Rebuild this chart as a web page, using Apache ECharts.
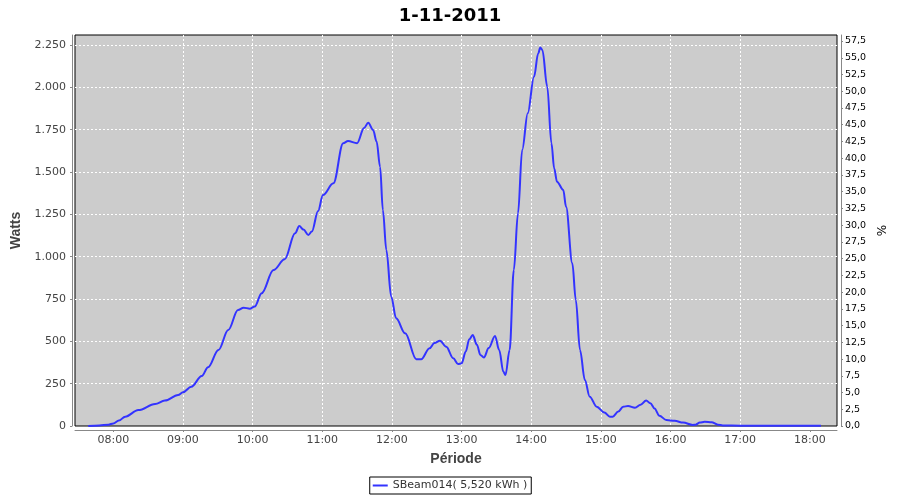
<!DOCTYPE html>
<html>
<head>
<meta charset="utf-8">
<script src="https://cdn.jsdelivr.net/npm/echarts@6/dist/echarts.min.js"></script>
<style>html,body{margin:0;padding:0;background:#fff}#c{width:900px;height:500px}</style>
</head>
<body>
<div id="c"></div>
<script>
var titleText = '1-11-2011';
var seriesName = 'SBeam014( 5,520 kWh )';
var hourTicks = [8, 9, 10, 11, 12, 13, 14, 15, 16, 17, 18];
var hours = [7.64,7.80,7.93,8.00,8.08,8.17,8.36,8.60,8.74,8.93,9.00,9.12,9.27,9.36,9.51,9.65,9.79,9.87,9.96,10.03,10.13,10.30,10.46,10.61,10.67,10.73,10.80,10.85,10.94,11.01,11.16,11.30,11.37,11.50,11.60,11.66,11.73,11.78,11.83,11.87,11.92,11.99,12.06,12.19,12.35,12.42,12.54,12.61,12.69,12.78,12.88,12.95,13.00,13.06,13.11,13.16,13.22,13.27,13.32,13.39,13.48,13.54,13.60,13.63,13.69,13.75,13.81,13.87,13.95,14.04,14.10,14.13,14.16,14.23,14.29,14.33,14.37,14.46,14.50,14.59,14.64,14.70,14.77,14.84,14.94,15.05,15.13,15.17,15.25,15.32,15.39,15.49,15.57,15.65,15.71,15.77,15.84,15.94,16.06,16.18,16.32,16.36,16.42,16.49,16.59,16.68,16.75,17.00,18.16];
var watts = [0,3,8,15,32,55,94,130,150,183,199,232,295,347,449,567,685,699,693,705,784,921,984,1138,1181,1160,1128,1148,1270,1364,1433,1670,1683,1670,1760,1791,1748,1680,1531,1276,1039,764,636,547,394,394,459,490,504,468,400,366,370,440,512,537,480,420,404,460,532,449,320,301,449,921,1256,1630,1847,2063,2200,2235,2220,2004,1670,1520,1443,1394,1295,961,744,449,272,173,114,80,55,55,85,114,118,108,125,150,135,104,61,35,31,20,6,8,20,25,22,8,3,2,2];

var data = hours.map(function (h, i) { return [h, watts[i]]; });

var chart = echarts.init(document.getElementById('c'), null, {renderer: 'canvas'});
var axisGray = '#888888';
var gridLine = {show: true, showMinLine: false, showMaxLine: false, lineStyle: {color: '#ffffff', type: [2, 2], width: 1}};
chart.setOption({
  animation: false,
  backgroundColor: '#ffffff',
  title: {
    text: titleText, left: 'center', top: 2,
    textStyle: {fontFamily: 'DejaVu Sans', fontWeight: 'bold', fontSize: 18, color: '#000'}
  },
  legend: {
    data: [seriesName], left: 'center', top: 477,
    borderColor: '#000', borderWidth: 1, padding: [3, 4, 3, 3],
    icon: 'rect', itemWidth: 15, itemHeight: 2, itemGap: 5,
    textStyle: {fontFamily: 'DejaVu Sans', fontSize: 11, color: '#333'}
  },
  grid: {
    left: 75, right: 63, top: 35, bottom: 74,
    show: true, backgroundColor: '#cccccc', borderColor: '#000', borderWidth: 1,
    containLabel: false
  },
  xAxis: {
    type: 'value', min: 7.45, max: 18.39, offset: 4,
    name: 'Période', nameLocation: 'middle', nameGap: 22,
    nameTextStyle: {fontFamily: 'Liberation Sans', fontWeight: 'bold', fontSize: 14, color: '#444'},
    axisLine: {show: true, onZero: false, lineStyle: {color: axisGray}},
    axisTick: {show: true, length: 2, customValues: hourTicks, lineStyle: {color: axisGray}},
    axisLabel: {
      customValues: hourTicks, margin: 5,
      fontFamily: 'DejaVu Sans', fontSize: 11, color: '#444',
      formatter: function (v) { var h = Math.round(v); return (h < 10 ? '0' : '') + h + ':00'; }
    },
    splitLine: gridLine
  },
  yAxis: [{
    type: 'value', min: 0, max: 2309, interval: 250, offset: 3, position: 'left',
    name: 'Watts', nameLocation: 'middle', nameGap: 46,
    nameTextStyle: {fontFamily: 'Liberation Sans', fontWeight: 'bold', fontSize: 14, color: '#444'},
    axisLine: {show: true, lineStyle: {color: axisGray}},
    axisTick: {show: true, length: 2, lineStyle: {color: axisGray}},
    axisLabel: {
      margin: 6, fontFamily: 'DejaVu Sans', fontSize: 11, color: '#444',
      showMaxLabel: false,
      formatter: function (v) {
        var s = String(Math.round(v));
        return s.replace(/\B(?=(\d{3})+(?!\d))/g, '.');
      }
    },
    splitLine: gridLine
  }, {
    type: 'value', min: 0, max: 58.4, interval: 2.5, offset: 4, position: 'right',
    name: '%', nameLocation: 'middle', nameGap: 35,
    nameTextStyle: {fontFamily: 'DejaVu Sans', fontSize: 12, color: '#000'},
    axisLine: {show: true, lineStyle: {color: axisGray}},
    axisTick: {show: true, length: 2, lineStyle: {color: axisGray}},
    axisLabel: {
      margin: 4, fontFamily: 'DejaVu Sans', fontSize: 9.5, color: '#000',
      showMaxLabel: false,
      formatter: function (v) { return v.toFixed(1).replace('.', ','); }
    },
    splitLine: {show: false}
  }],
  series: [{
    name: seriesName, type: 'line', data: data, yAxisIndex: 0,
    showSymbol: false, symbol: 'none', smooth: 0.35, smoothMonotone: 'x',
    lineStyle: {color: '#3333ff', width: 2}, itemStyle: {color: '#3333ff'}
  }]
});
</script>
</body>
</html>
